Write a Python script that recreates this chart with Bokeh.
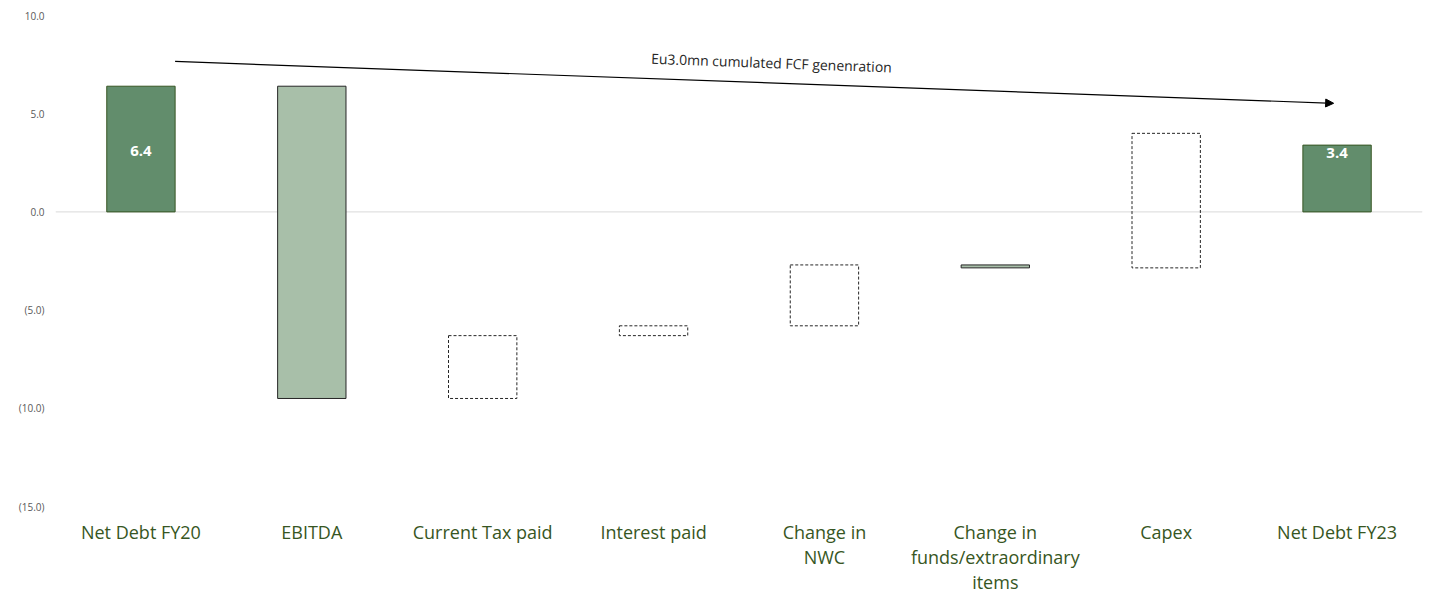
from bokeh.plotting import figure
from bokeh.models import ColumnDataSource, Span, Arrow, NormalHead, Label, FactorRange, Range1d, FixedTicker
from bokeh.embed import file_html
from bokeh.resources import INLINE
from bokeh.core.properties import value

# ---- data ----
categories = ["Net Debt FY20", "EBITDA", "Current Tax paid", "Interest paid",
              "Change in\nNWC", "Change in\nfunds/extraordinary\nitems", "Capex", "Net Debt FY23"]
bar_bottom = [0.0, -9.5, -9.5, -6.3, -5.8, -2.85, -2.85, 0.0]
bar_top = [6.4, 6.4, -6.3, -5.8, -2.7, -2.7, 4.0, 3.4]
bar_kind = ["total", "fill", "dash", "dash", "dash", "fill", "dash", "total"]
total_label_y = [3.1, 3.0]
y_ticks = [-15, -10, -5, 0, 5, 10]
y_tick_labels = ["(15.0)", "(10.0)", "(5.0)", "0.0", "5.0", "10.0"]
arrow_note = "Eu3.0mn cumulated FCF genenration"
arrow_start = (0.70, 7.66)
arrow_end = (7.48, 5.53)
note_pos = (4.19, 7.60)

def subset(kind):
    idx = [i for i, k in enumerate(bar_kind) if k == kind]
    return ColumnDataSource(dict(
        x=[categories[i] for i in idx],
        bottom=[bar_bottom[i] for i in idx],
        top=[bar_top[i] for i in idx],
    ))

p = figure(x_range=FactorRange(*categories), y_range=Range1d(-15, 10),
           width=1432, height=597, output_backend="svg", toolbar_location=None,
           min_border_left=55, min_border_right=10, min_border_top=15, min_border_bottom=89)
p.xgrid.visible = False
p.ygrid.visible = False
p.outline_line_color = None
p.background_fill_color = "white"
p.border_fill_color = "white"

p.add_layout(Span(location=0, dimension="width", line_color="#d9d9d9", line_width=1, level="underlay"))

p.vbar(x="x", bottom="bottom", top="top", width=0.4, source=subset("total"),
       fill_color="#628d6c", line_color="#375623", line_width=1)
p.vbar(x="x", bottom="bottom", top="top", width=0.4, source=subset("fill"),
       fill_color="#a8bfa9", line_color="#262626", line_width=1)
p.vbar(x="x", bottom="bottom", top="top", width=0.4, source=subset("dash"),
       fill_color=None, line_color="#262626", line_width=1, line_dash="3 2")

tot_idx = [i for i, k in enumerate(bar_kind) if k == "total"]
lab_src = ColumnDataSource(dict(
    x=[categories[i] for i in tot_idx],
    y=total_label_y,
    t=[f"{bar_top[i] - bar_bottom[i]:.1f}" for i in tot_idx],
))
p.text(x="x", y="y", text="t", source=lab_src, text_color="white",
       text_font=value("Open Sans"), text_font_style="bold", text_font_size="15px",
       text_align="center", text_baseline="middle")

p.add_layout(Arrow(end=NormalHead(size=8, fill_color="black", line_color="black", line_width=1),
                   x_start=arrow_start[0], y_start=arrow_start[1],
                   x_end=arrow_end[0], y_end=arrow_end[1],
                   line_color="black", line_width=1.2))
p.add_layout(Label(x=note_pos[0], y=note_pos[1], text=arrow_note, angle=-0.036,
                   text_font="Open Sans", text_font_size="14px", text_color="#262626",
                   text_align="center", text_baseline="middle"))

xa = p.xaxis[0]
xa.axis_line_color = None
xa.major_tick_line_color = None
xa.minor_tick_line_color = None
xa.major_tick_out = 0
xa.major_tick_in = 0
xa.minor_tick_out = 0
xa.major_label_text_font = "Open Sans"
xa.major_label_text_font_size = "18px"
xa.major_label_text_color = "#375623"
xa.major_label_standoff = 13
xa.major_label_text_line_height = 1.06

ya = p.yaxis[0]
ya.ticker = FixedTicker(ticks=y_ticks)
ya.major_label_overrides = {t: s for t, s in zip(y_ticks, y_tick_labels)}
ya.axis_line_color = None
ya.major_tick_line_color = None
ya.minor_tick_line_color = None
ya.major_tick_out = 0
ya.major_tick_in = 0
ya.minor_tick_out = 0
ya.major_label_text_font = "Open Sans"
ya.major_label_text_font_size = "10px"
ya.major_label_text_color = "#595959"
ya.major_label_standoff = 11

open("out.html", "w").write(file_html(p, INLINE))
